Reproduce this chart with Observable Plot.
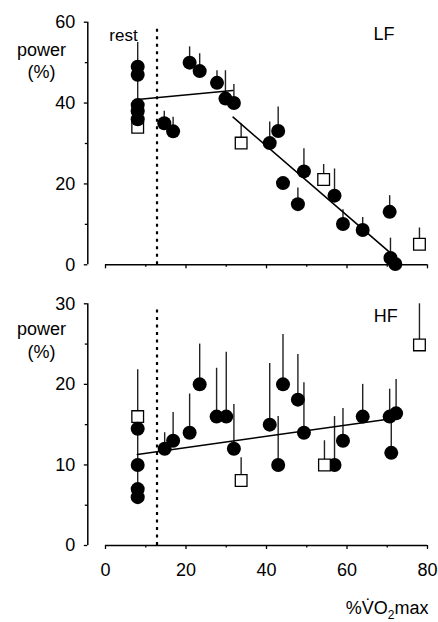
<!DOCTYPE html>
<html>
<head>
<meta charset="utf-8">
<script src="https://cdn.jsdelivr.net/npm/d3@7"></script>
<script src="https://cdn.jsdelivr.net/npm/@observablehq/plot@0.6"></script>
<style>
  html, body { margin: 0; padding: 0; background: #fff; }
  #chart svg { display: block; }
</style>
</head>
<body>
<div id="chart"></div>
<script>
// ---------- data ----------
const xTicksMajor = [0, 20, 40, 60, 80];
const xTicksMinor = [10, 30, 50, 70];
const lfTicksMajor = [0, 20, 40, 60];
const lfTicksMinor = [10, 30, 50];
const hfTicksMajor = [0, 10, 20, 30];
const hfTicksMinor = [5, 15, 25];

const restX = 8;
const thresholdX = 12.8;

// LF panel
const lfRestY = [49, 47, 39.5, 38, 36];
const lfRestSquare = 34;
const lfRestErrTop = 55;
const lfCircleX = [14.6, 16.8, 20.9, 23.4, 27.7, 29.8, 31.9, 40.8, 42.9, 44.1, 47.8, 49.3, 56.9, 59.0, 63.9, 70.6, 70.8, 72.0];
const lfCircleY = [35.0, 33.0, 50.0, 47.9, 45.0, 41.1, 40.0, 30.1, 33.1, 20.2, 15.0, 23.1, 17.1, 10.1, 8.6, 13.1, 1.7, 0.2];
const lfCircleErr = [38.0, 36.5, 53.9, 52.2, 48.0, 48.0, 44.6, 35.3, 39.0, null, 19.0, 28.7, 23.7, 13.6, 11.7, 17.1, 6.6, null];
const lfSquareX = [33.7, 54.2, 78.0];
const lfSquareY = [30.1, 21.1, 5.1];
const lfSquareErr = [34.9, 24.8, 9.1];
const lfFit1X = [7.9, 31.6], lfFit1Y = [40.9, 43.1];
const lfFit2X = [31.7, 71.2], lfFit2Y = [36.5, 2.6];
const lfThresholdTop = 59.2;

// HF panel
const hfRestY = [14.5, 10, 7, 6];
const hfRestSquare = 16;
const hfRestErrTop = 21.8;
const hfCircleX = [14.7, 16.8, 20.9, 23.4, 27.6, 30.0, 31.9, 40.8, 42.9, 44.1, 47.8, 49.3, 56.9, 59.0, 63.9, 70.6, 71.0, 72.2];
const hfCircleY = [12.0, 13.0, 14.0, 20.0, 16.0, 16.0, 12.0, 15.0, 10.0, 20.0, 18.1, 14.0, 10.0, 13.0, 16.0, 16.0, 11.5, 16.4];
const hfCircleErr = [14.0, 16.5, 18.8, 25.0, 22.0, 24.0, 17.5, 22.6, 16.0, 26.2, 23.7, 20.2, 16.0, 17.0, 20.0, 19.4, 16.0, 20.6];
const hfSquareX = [33.7, 54.4, 78.0];
const hfSquareY = [8.06, 10.0, 24.9];
const hfSquareErr = [10.9, 13.0, 30.0];
const hfFitX = [7.9, 70.6], hfFitY = [11.3, 15.7];
const hfThresholdTop = 29.4;

const yLabel = "power\n(%)";
const xLabel = "%V\u0307O2max";

// ---------- helpers ----------
const FONT = "'Liberation Sans', Arial, Helvetica, sans-serif";
const zip = (xs, ys, es) => xs.map((x, i) => ({x, y: ys[i], e: es ? es[i] : null}));

function panel({height, marginTop, marginBottom, yDomain, yMajor, yMinor, xLabels, circles, squares, restY, restSq, restErrTop, fits, thrTop, tag, tagPos, labelDy, showRest, showXTitle}) {
  const restPts = restY.map(y => ({x: restX, y}));
  const errs = circles.filter(d => d.e != null).concat(squares);
  const marks = [
    Plot.ruleY([yDomain[0]], {stroke: "#000", strokeWidth: 1.5}),
    Plot.ruleX([0], {stroke: "#000", strokeWidth: 1.5, dx: -17.7}),
    Plot.axisY(yMajor, {anchor: "left", label: null, dx: -17.7, tickSize: 3.5, tickPadding: 9, strokeWidth: 1.3, fill: "#000"}),
    Plot.axisY(yMinor, {anchor: "left", label: null, dx: -17.7, tickSize: 2.5, tickFormat: () => "", strokeWidth: 1.3}),
    Plot.axisX(xTicksMajor, {anchor: "bottom", label: null, tickSize: 4, tickPadding: 14, strokeWidth: 1.3, fill: "#000", tickFormat: xLabels ? d => d : () => ""}),
    Plot.axisX(xTicksMinor, {anchor: "bottom", label: null, tickSize: 2.5, tickFormat: () => "", strokeWidth: 1.3}),
    Plot.ruleX([thresholdX], {y1: yDomain[0], y2: thrTop, stroke: "#000", strokeWidth: 2.2, strokeDasharray: "3 4.5"}),
    Plot.ruleX([restX], {y1: Math.min(...restY), y2: restErrTop, stroke: "#222", strokeWidth: 1.4}),
    Plot.ruleX(errs, {x: "x", y1: "y", y2: "e", stroke: "#222", strokeWidth: 1.4}),
    ...fits.map(f => Plot.line(zip(f[0], f[1]), {x: "x", y: "y", stroke: "#000", strokeWidth: 1.6})),
    Plot.dot([{x: restX, y: restSq}], {x: "x", y: "y", symbol: "square", r: 6.6, fill: "#fff", stroke: "#000", strokeWidth: 1.3}),
    Plot.dot(restPts, {x: "x", y: "y", r: 7, fill: "#000", stroke: "none"}),
    Plot.dot(circles, {x: "x", y: "y", r: 7, fill: "#000", stroke: "none"}),
    Plot.dot(squares, {x: "x", y: "y", symbol: "square", r: 6.6, fill: "#fff", stroke: "#000", strokeWidth: 1.3}),
    Plot.text([tag], {x: tagPos[0], y: tagPos[1], text: d => d, fontSize: 18, textAnchor: "middle", fill: "#000"}),
    Plot.text([yLabel], {frameAnchor: "top-left", text: d => d, dx: -64, dy: labelDy, textAnchor: "middle", lineAnchor: "top", lineHeight: 1.25, fontSize: 18, fill: "#000"})
  ];
  if (showRest) marks.push(Plot.text(["rest"], {x: restX, y: 56.8, text: d => d, textAnchor: "end", fontSize: 17, fill: "#000"}));
  if (showXTitle) marks.push(Plot.text([xLabel], {frameAnchor: "bottom-right", text: d => d, dx: 1, dy: 68, textAnchor: "end", lineAnchor: "bottom", fontSize: 18, fill: "#000"}));
  return Plot.plot({
    width: 438,
    height,
    marginLeft: 105,
    marginRight: 11,
    marginTop,
    marginBottom,
    style: {fontFamily: FONT, fontSize: "18px", color: "#000", background: "#fff", overflow: "visible"},
    x: {domain: [0, 80], label: null},
    y: {domain: yDomain, label: null},
    marks
  });
}

const lfPanel = panel({
  height: 280, marginTop: 21.7, marginBottom: 15.7, yDomain: [0, 60],
  yMajor: lfTicksMajor, yMinor: lfTicksMinor, xLabels: false,
  circles: zip(lfCircleX, lfCircleY, lfCircleErr), squares: zip(lfSquareX, lfSquareY, lfSquareErr),
  restY: lfRestY, restSq: lfRestSquare, restErrTop: lfRestErrTop,
  fits: [[lfFit1X, lfFit1Y], [lfFit2X, lfFit2Y]], thrTop: lfThresholdTop,
  tag: "LF", tagPos: [69.2, 57.0], labelDy: 17.5, showRest: true, showXTitle: false
});
const hfPanel = panel({
  height: 342, marginTop: 23.3, marginBottom: 77, yDomain: [0, 30],
  yMajor: hfTicksMajor, yMinor: hfTicksMinor, xLabels: true,
  circles: zip(hfCircleX, hfCircleY, hfCircleErr), squares: zip(hfSquareX, hfSquareY, hfSquareErr),
  restY: hfRestY, restSq: hfRestSquare, restErrTop: hfRestErrTop,
  fits: [[hfFitX, hfFitY]], thrTop: hfThresholdTop,
  tag: "HF", tagPos: [69.6, 28.5], labelDy: 15.6, showRest: false, showXTitle: true
});

const chart = document.getElementById("chart");
chart.appendChild(lfPanel);
chart.appendChild(hfPanel);

// subscript the "2" of the x title
d3.select(hfPanel).selectAll("text").each(function () {
  if (this.textContent === xLabel) {
    const t = d3.select(this);
    t.text(null);
    t.append("tspan").text("%V\u0307O");
    t.append("tspan").attr("font-size", 12).attr("dy", 5).text("2");
    t.append("tspan").attr("dy", -5).text("max");
  }
});
</script>
</body>
</html>
